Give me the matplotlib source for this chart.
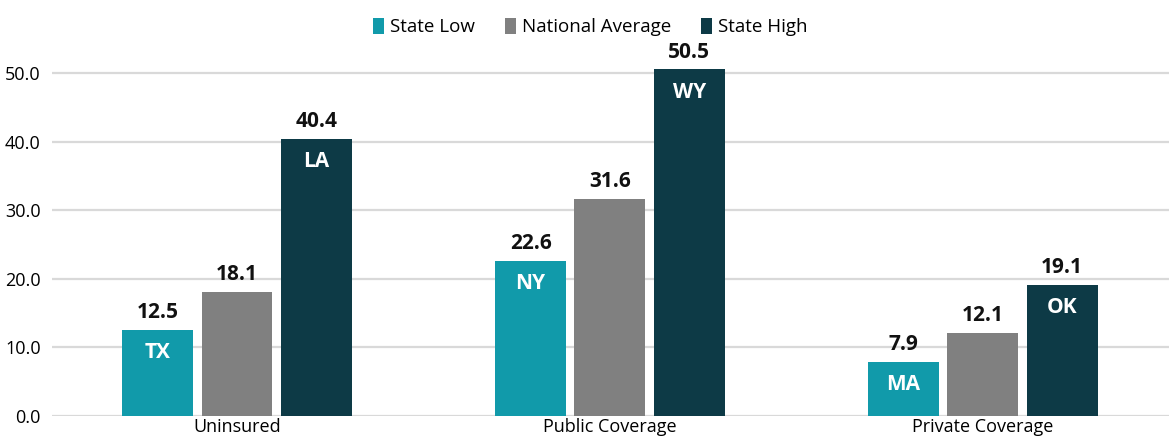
import matplotlib
matplotlib.use("Agg")
import matplotlib.pyplot as plt
import numpy as np

categories = ["Uninsured", "Public Coverage", "Private Coverage"]
series_names = ["State Low", "National Average", "State High"]
state_low = [12.5, 22.6, 7.9]
national_avg = [18.1, 31.6, 12.1]
state_high = [40.4, 50.5, 19.1]
low_states = ["TX", "NY", "MA"]
high_states = ["LA", "WY", "OK"]
colors = ["#119AAA", "#808080", "#0D3A46"]

plt.rcParams['font.family'] = ['Open Sans', 'DejaVu Sans']

fig = plt.figure(figsize=(11.74, 4.46), dpi=100)
ax = fig.add_axes([0.044, 0.067, 0.952, 0.862])

x = np.arange(len(categories))
w = 0.19
step = 0.2125
values = [state_low, national_avg, state_high]
bars = []
for i, (vals, name, c) in enumerate(zip(values, series_names, colors)):
    b = ax.bar(x + (i - 1) * step, vals, w, color=c, label=name, zorder=3)
    bars.append(b)
    for rect, v in zip(b, vals):
        ax.text(rect.get_x() + rect.get_width() / 2, v + 1.0, f"{v:.1f}",
                ha="center", va="bottom", fontsize=15, fontweight="bold", color="#111111")

for labels, b in [(low_states, bars[0]), (high_states, bars[2])]:
    for rect, lab in zip(b, labels):
        ax.text(rect.get_x() + rect.get_width() / 2, rect.get_height() - 3.3, lab,
                ha="center", va="center", fontsize=15, fontweight="bold", color="white")

ax.set_ylim(0, 56)
ax.set_xlim(-0.497, 2.5)
ax.set_yticks(np.arange(0, 51, 10))
ax.set_yticklabels([f"{t:.1f}" for t in np.arange(0, 51, 10)], fontsize=13)
ax.set_xticks(x)
ax.set_xticklabels(categories, fontsize=13)
ax.tick_params(length=0, pad=1)
ax.tick_params(axis="y", pad=8)
ax.grid(axis="y", color="#D9D9D9", linewidth=1.6, zorder=0)
for s in ax.spines.values():
    s.set_visible(False)

ax.legend(loc="center", bbox_to_anchor=(0.482, 1.012), ncol=3, frameon=False,
          fontsize=13.5, handlelength=0.6, handleheight=1.0, handletextpad=0.3,
          columnspacing=1.6)

fig.savefig("out.png", dpi=100)
